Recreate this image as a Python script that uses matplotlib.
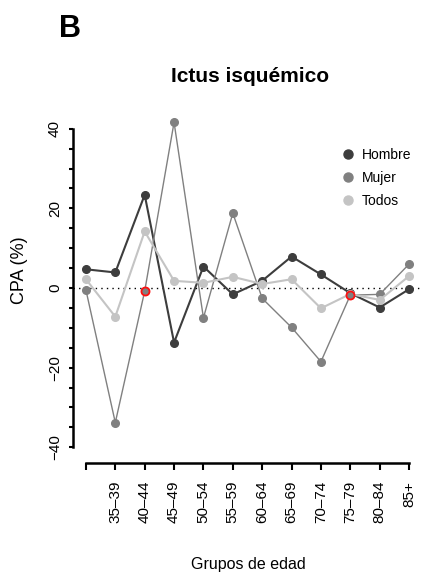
import numpy as np
import matplotlib
matplotlib.use("Agg")
import matplotlib.pyplot as plt
from matplotlib.lines import Line2D
from matplotlib.ticker import MultipleLocator

grupos = ["30–34", "35–39", "40–44", "45–49", "50–54", "55–59", "60–64",
          "65–69", "70–74", "75–79", "80–84", "85+"]
tick_labels = [""] + grupos[1:]   # first label is not shown in the original

hombre = [4.7, 3.9, 23.4, -13.7, 5.4, -1.6, 1.8, 7.9, 3.4, -1.3, -4.9, -0.3]
mujer = [-0.5, -33.8, -0.8, 41.6, -7.5, 18.8, -2.6, -9.9, -18.5, -1.8, -1.6, 6.0]
todos = [2.2, -7.2, 14.2, 1.8, 1.3, 2.8, 1.0, 2.2, -5.1, -1.5, -3.0, 3.0]
# significant points (red ring) in Mujer series
signif = [2, 9]

series = [("Hombre", hombre, "#3d3d3d", 1.5),
          ("Mujer", mujer, "#808080", 1.0),
          ("Todos", todos, "#c4c4c4", 1.5)]

FONT = ["Liberation Sans", "DejaVu Sans"]

W, H = 427, 582
fig = plt.figure(figsize=(W / 100, H / 100), dpi=100)
ax = fig.add_axes([73 / W, 1 - 460 / H, (422 - 73) / W, (460 - 116) / H])

x = np.arange(len(grupos))
ax.axhline(0, color="black", lw=1.0, ls=(0, (1, 3)), zorder=1)

for name, vals, col, lw in series:
    ax.plot(x, vals, color=col, lw=lw, marker="o", ms=5.5, mec=col, mfc=col,
            zorder=2)

m = np.array(mujer)
ax.plot(x[signif], m[signif], ls="none", marker="o", ms=5.8, mfc="#808080",
        mec="#ff1010", mew=1.3, zorder=4)

ax.set_xlim(-0.44, len(grupos) - 1 + 0.44)
ax.set_ylim(-43.2, 43.2)

for s in ["top", "right"]:
    ax.spines[s].set_visible(False)
ax.spines["left"].set_bounds(-40, 40)
ax.spines["left"].set_linewidth(1.8)
ax.spines["bottom"].set_bounds(0, len(grupos) - 1)
ax.spines["bottom"].set_linewidth(1.8)
ax.spines["bottom"].set_position(("outward", 2))

ax.yaxis.set_major_locator(MultipleLocator(20))
ax.yaxis.set_minor_locator(MultipleLocator(5))
ax.tick_params(axis="y", which="both", length=3, width=1.5, direction="out",
               pad=5)
ax.set_yticks([-40, -20, 0, 20, 40])
ax.set_yticklabels(["−40", "−20", "0", "20", "40"], rotation=90, va="center",
                   family=FONT, fontsize=11)

ax.set_xticks(x)
ax.set_xticklabels(tick_labels, rotation=90, family=FONT, fontsize=11)
ax.tick_params(axis="x", length=5, width=1.5, pad=8)

fig.text(20 / W, 1 - 270 / H, "CPA (%)", rotation=90, ha="center",
         va="center", family=FONT, fontsize=13)
fig.text(248 / W, 1 - 565 / H, "Grupos de edad", ha="center", va="center",
         family=FONT, fontsize=11.5)
fig.text(250 / W, 1 - 76 / H, "Ictus isquémico", ha="center", va="center",
         family=FONT, fontsize=15, fontweight="bold")
fig.text(70 / W, 1 - 29 / H, "B", ha="center", va="center",
         family=FONT, fontsize=22, fontweight="bold")

handles = [Line2D([], [], ls="none", marker="o", ms=6.5, mfc=c, mec=c)
           for _, _, c, _ in series]
leg = ax.legend(handles, [s[0] for s in series], loc="upper left",
                bbox_to_anchor=(336 / W, 1 - 142 / H),
                bbox_transform=fig.transFigure, frameon=False,
                handlelength=1.0, handletextpad=0.45, labelspacing=0.65,
                borderaxespad=0, prop={"family": FONT, "size": 10})

fig.savefig("out.png", dpi=100)
